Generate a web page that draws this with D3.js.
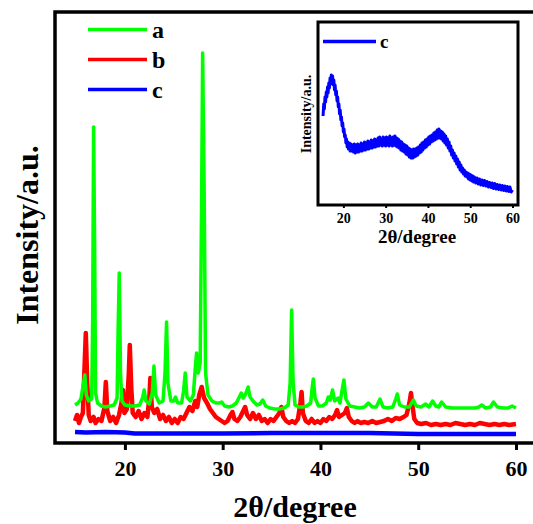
<!DOCTYPE html>
<html>
<head>
<meta charset="utf-8">
<script src="https://cdn.jsdelivr.net/npm/d3@7"></script>
<style>
  body { margin: 0; background: #fff; }
  text { font-family: "Liberation Serif", "Times New Roman", serif; font-weight: bold; }
</style>
</head>
<body>
<script>
// plotted intensity (stacked, arbitrary units), [2theta, I]
var seriesA = [[14.9,38],[15.2,40],[15.5,44],[15.8,62],[15.9,68],[16.05,48],[16.3,42],[16.6,44],[16.7,120],[16.8,316],[16.9,200],[17.0,50],[17.2,40],[17.6,37],[18.0,36],[18.5,37],[18.9,38],[19.2,45],[19.3,110],[19.42,170],[19.55,70],[19.7,42],[20.0,38],[20.5,37],[21.0,37],[21.5,38],[21.8,45],[21.97,53],[22.15,42],[22.5,39],[22.8,50],[22.97,77],[23.15,48],[23.5,40],[23.9,42],[24.1,70],[24.26,121],[24.4,60],[24.7,42],[25.0,42],[25.18,46],[25.4,40],[25.8,40],[26.0,52],[26.17,70],[26.35,46],[26.7,42],[27.0,48],[27.2,75],[27.33,90],[27.5,70],[27.7,80],[27.85,250],[27.95,390],[28.1,260],[28.25,70],[28.5,48],[28.9,42],[29.3,40],[29.7,40],[29.9,41],[30.2,37],[30.6,36],[31.0,37],[31.4,40],[31.7,46],[31.9,50],[32.1,45],[32.3,48],[32.6,56],[32.8,46],[33.1,42],[33.5,38],[33.8,39],[34.1,43],[34.4,37],[34.8,35],[35.3,34],[35.8,34],[36.3,35],[36.7,38],[36.9,60],[37.05,133],[37.2,62],[37.4,38],[37.8,36],[38.2,36],[38.6,37],[39.0,40],[39.15,55],[39.27,64],[39.45,45],[39.8,37],[40.2,37],[40.6,40],[40.8,46],[41.0,43],[41.24,53],[41.45,42],[41.8,45],[42.0,40],[42.25,55],[42.4,63],[42.6,44],[43.0,37],[43.5,36],[44.0,35],[44.5,36],[44.9,40],[45.3,36],[45.7,36],[46.1,44],[46.4,36],[46.9,35],[47.4,36],[47.7,44],[47.86,49],[48.1,38],[48.6,36],[49.1,36],[49.5,43],[49.8,37],[50.3,36],[50.76,39],[51.1,36],[51.47,42],[51.8,37],[52.1,36],[52.4,41],[52.8,36],[53.5,35],[54.2,35],[55.0,35],[55.8,35],[56.2,36],[56.5,38],[56.9,35],[57.4,36],[57.7,41],[58.1,36],[58.7,35],[59.2,35],[59.6,37],[60.0,35]];

var seriesB = [[14.9,22],[15.1,28],[15.3,20],[15.5,26],[15.7,30],[15.85,70],[16.0,110],[16.15,60],[16.3,28],[16.5,22],[16.8,26],[17.0,20],[17.3,24],[17.6,22],[17.9,35],[18.05,61],[18.2,32],[18.5,22],[18.8,26],[19.1,20],[19.4,28],[19.65,40],[19.8,53],[19.95,30],[20.2,34],[20.4,70],[20.5,98],[20.65,55],[20.8,30],[21.1,26],[21.4,32],[21.7,24],[22.0,30],[22.3,26],[22.5,45],[22.6,65],[22.75,36],[23.0,30],[23.3,34],[23.6,24],[23.9,28],[24.2,22],[24.5,26],[24.8,20],[25.1,24],[25.4,20],[25.7,26],[26.0,24],[26.3,30],[26.6,36],[26.9,32],[27.2,42],[27.4,36],[27.6,48],[27.85,56],[28.1,45],[28.4,40],[28.7,34],[29.0,30],[29.3,26],[29.6,24],[29.9,22],[30.2,20],[30.5,22],[30.8,28],[31.0,31],[31.2,24],[31.5,22],[31.8,26],[32.0,30],[32.3,36],[32.5,28],[32.8,24],[33.1,30],[33.4,24],[33.7,28],[34.0,22],[34.3,24],[34.6,20],[34.9,24],[35.2,22],[35.5,26],[35.8,30],[36.0,36],[36.2,26],[36.5,22],[36.8,20],[37.1,22],[37.4,20],[37.7,24],[37.95,40],[38.07,51],[38.2,30],[38.5,22],[38.8,20],[39.1,24],[39.4,20],[39.7,22],[40.0,20],[40.3,24],[40.6,22],[40.9,26],[41.2,24],[41.5,28],[41.7,33],[41.9,26],[42.2,28],[42.5,30],[42.7,35],[42.9,26],[43.2,22],[43.5,20],[43.8,22],[44.1,20],[44.5,21],[44.9,20],[45.3,22],[45.7,20],[46.1,21],[46.5,22],[46.9,24],[47.3,22],[47.7,25],[48.1,24],[48.5,26],[48.8,28],[49.1,40],[49.26,50],[49.4,38],[49.6,24],[49.9,20],[50.3,19],[50.8,20],[51.3,18],[51.8,19],[52.3,18],[52.8,19],[53.3,18],[53.8,20],[54.3,19],[54.8,18],[55.3,19],[55.8,18],[56.3,20],[56.8,19],[57.3,18],[57.8,19],[58.3,18],[58.8,19],[59.3,18],[60.0,19]];

var seriesC = [[14.9,11],[16,10.5],[18,11],[20,10.5],[21,9.5],[25,9.5],[30,9.5],[35,10],[40,10],[45,10],[50,9],[55,9],[60,9]];

// inset: sample c alone (noisy trace)
var insetC = [[15.2,890],[15.35,1010],[15.5,960],[15.65,1080],[15.8,1030],[15.95,1130],[16.1,1080],[16.25,1180],[16.4,1120],[16.55,1220],[16.7,1170],[16.85,1270],[17.0,1210],[17.15,1300],[17.3,1230],[17.45,1290],[17.6,1200],[17.75,1250],[17.9,1150],[18.05,1200],[18.2,1100],[18.35,1140],[18.5,1040],[18.65,1080],[18.8,980],[18.95,1010],[19.1,910],[19.25,950],[19.4,850],[19.55,880],[19.7,790],[19.85,820],[20.0,730],[20.15,760],[20.3,680],[20.45,700],[20.6,620],[20.75,660],[20.9,580],[21.05,630],[21.2,560],[21.4,620],[21.6,540],[21.8,610],[22.0,540],[22.2,600],[22.4,530],[22.6,610],[22.8,520],[23.0,600],[23.2,530],[23.4,610],[23.6,530],[23.8,600],[24.0,540],[24.2,620],[24.4,540],[24.6,610],[24.8,550],[25.0,630],[25.2,550],[25.4,620],[25.6,560],[25.8,640],[26.0,560],[26.2,630],[26.4,570],[26.6,650],[26.8,570],[27.0,640],[27.2,580],[27.4,660],[27.6,580],[27.8,650],[28.0,590],[28.2,670],[28.4,590],[28.6,680],[28.8,600],[29.0,660],[29.2,590],[29.4,680],[29.6,600],[29.8,670],[30.0,590],[30.2,680],[30.4,600],[30.6,670],[30.8,590],[31.0,690],[31.2,600],[31.4,670],[31.6,590],[31.8,680],[32.0,600],[32.2,690],[32.4,590],[32.6,670],[32.8,580],[33.0,660],[33.2,570],[33.4,640],[33.6,550],[33.8,630],[34.0,540],[34.2,610],[34.4,530],[34.6,600],[34.8,510],[35.0,590],[35.2,500],[35.4,570],[35.6,480],[35.8,560],[36.0,470],[36.2,550],[36.4,470],[36.6,560],[36.8,480],[37.0,560],[37.2,490],[37.4,570],[37.6,500],[37.8,580],[38.0,520],[38.2,600],[38.4,530],[38.6,620],[38.8,550],[39.0,630],[39.2,570],[39.4,650],[39.6,580],[39.8,660],[40.0,600],[40.2,680],[40.4,610],[40.6,690],[40.8,630],[41.0,700],[41.2,640],[41.4,720],[41.6,650],[41.8,730],[42.0,660],[42.2,750],[42.4,670],[42.6,760],[42.8,670],[43.0,740],[43.2,660],[43.4,730],[43.6,640],[43.8,710],[44.0,620],[44.2,690],[44.4,600],[44.6,660],[44.8,570],[45.0,630],[45.2,540],[45.4,590],[45.6,500],[45.8,550],[46.0,470],[46.2,520],[46.4,440],[46.6,490],[46.8,410],[47.0,460],[47.2,380],[47.4,430],[47.6,350],[47.8,400],[48.0,330],[48.2,370],[48.4,310],[48.6,350],[48.8,290],[49.0,330],[49.2,280],[49.4,320],[49.6,260],[49.8,310],[50.0,250],[50.2,300],[50.4,240],[50.6,290],[50.8,230],[51.0,280],[51.3,220],[51.6,270],[51.9,210],[52.2,260],[52.5,200],[52.8,250],[53.1,195],[53.4,245],[53.7,190],[54.0,235],[54.3,180],[54.6,225],[54.9,175],[55.2,220],[55.5,165],[55.8,215],[56.1,160],[56.4,205],[56.7,155],[57.0,200],[57.3,150],[57.6,195],[57.9,145],[58.2,190],[58.5,140],[58.8,185],[59.1,135],[59.4,180],[59.7,130],[60.0,150]];

var xTicks = [20, 30, 40, 50, 60];
var legendNames = ["a", "b", "c"];
var colors = ["#00ff00", "#ff0000", "#0000ff"];

var svg = d3.select("body").append("svg")
  .attr("width", 533)
  .attr("height", 524);

// main chart
var x = d3.scaleLinear().domain([12.85, 62.2]).range([55, 537.5]);
var y = d3.scaleLinear().domain([0, 431]).range([443, 12]);

var line = d3.line()
  .x(function(d) { return x(d[0]); })
  .y(function(d) { return y(d[1]); });

var all = [seriesA, seriesB, seriesC];
var widths = [3.5, 4.5, 4.5];
// draw c, then b, then a on top
[2, 1, 0].forEach(function(i) {
  svg.append("path")
    .datum(all[i])
    .attr("d", line)
    .attr("fill", "none")
    .attr("stroke", colors[i])
    .attr("stroke-width", widths[i])
    .attr("stroke-linejoin", "round");
});

var xAxis = svg.append("g")
  .attr("transform", "translate(0,443)")
  .call(d3.axisBottom(x).tickValues(xTicks).tickSize(7).tickPadding(10).tickFormat(d3.format("d")));
xAxis.select(".domain").remove();
xAxis.selectAll("line").attr("stroke", "#000").attr("stroke-width", 3);
xAxis.selectAll("text").attr("font-size", 22).attr("fill", "#000");

// frame (right side falls outside the picture)
svg.append("path")
  .attr("d", "M540,12 H55 V443 H540")
  .attr("fill", "none")
  .attr("stroke", "#000")
  .attr("stroke-width", 3.5);

svg.append("text")
  .attr("x", 295).attr("y", 517)
  .attr("text-anchor", "middle")
  .attr("font-size", 30)
  .text("2θ/degree");

svg.append("text")
  .attr("transform", "translate(38,235) rotate(-90)")
  .attr("text-anchor", "middle")
  .attr("font-size", 32)
  .text("Intensity/a.u.");

// legend
var leg = svg.append("g");
legendNames.forEach(function(n, i) {
  var ly = 29.5 + i * 30;
  leg.append("line")
    .attr("x1", 88).attr("x2", 147)
    .attr("y1", ly).attr("y2", ly)
    .attr("stroke", colors[i]).attr("stroke-width", 3.5);
  leg.append("text")
    .attr("x", 152).attr("y", ly + 8)
    .attr("font-size", 24)
    .text(n);
});

// inset
var ix = d3.scaleLinear().domain([14.0, 61.3]).range([318, 518]);
var iy = d3.scaleLinear().domain([0, 1830]).range([205, 22]);

var iline = d3.line()
  .x(function(d) { return ix(d[0]); })
  .y(function(d) { return iy(d[1]); });

svg.append("rect")
  .attr("x", 318).attr("y", 22)
  .attr("width", 200).attr("height", 183)
  .attr("fill", "#fff");

svg.append("path")
  .datum(insetC)
  .attr("d", iline)
  .attr("fill", "none")
  .attr("stroke", "#0000ff")
  .attr("stroke-width", 3)
  .attr("stroke-linejoin", "round");

var ixAxis = svg.append("g")
  .attr("transform", "translate(0,205)")
  .call(d3.axisBottom(ix).tickValues(xTicks).tickSize(3).tickPadding(5).tickFormat(d3.format("d")));
ixAxis.select(".domain").remove();
ixAxis.selectAll("line").attr("stroke", "#000").attr("stroke-width", 2);
ixAxis.selectAll("text").attr("font-size", 14).attr("fill", "#000");

svg.append("rect")
  .attr("x", 318).attr("y", 22)
  .attr("width", 200).attr("height", 183)
  .attr("fill", "none")
  .attr("stroke", "#000")
  .attr("stroke-width", 3);

svg.append("text")
  .attr("x", 417).attr("y", 243)
  .attr("text-anchor", "middle")
  .attr("font-size", 19)
  .text("2θ/degree");

svg.append("text")
  .attr("transform", "translate(311,114) rotate(-90)")
  .attr("text-anchor", "middle")
  .attr("font-size", 14)
  .text("Intensity/a.u.");

svg.append("line")
  .attr("x1", 323).attr("x2", 376)
  .attr("y1", 41.5).attr("y2", 41.5)
  .attr("stroke", "#0000ff").attr("stroke-width", 3.5);
svg.append("text")
  .attr("x", 380).attr("y", 48)
  .attr("font-size", 19)
  .text("c");
</script>
</body>
</html>
